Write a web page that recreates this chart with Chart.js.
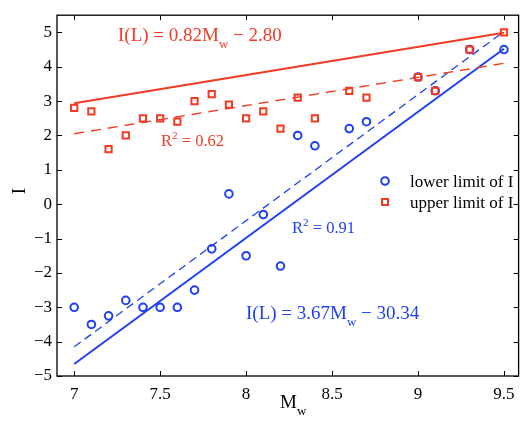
<!DOCTYPE html>
<html>
<head>
<meta charset="utf-8">
<script src="https://cdn.jsdelivr.net/npm/chart.js@4/dist/chart.umd.min.js"></script>
<style>
  html, body { margin: 0; padding: 0; background: #fff; }
  #wrap { width: 525px; height: 421px; }
</style>
</head>
<body>
<div id="wrap"><canvas id="scatter"></canvas></div>
<script>
// magnitudes and the two limits of I
var mw = [7.0, 7.1, 7.2, 7.3, 7.4, 7.5, 7.6, 7.7, 7.8, 7.9, 8.0, 8.1, 8.2, 8.3, 8.4, 8.6, 8.7, 9.0, 9.1, 9.3, 9.5];
var lowerI = [-3.0, -3.5, -3.25, -2.8, -3.0, -3.0, -3.0, -2.5, -1.3, 0.3, -1.5, -0.3, -1.8, 2.0, 1.7, 2.2, 2.4, 3.7, 3.3, 4.5, 4.5];
var upperI = [2.8, 2.7, 1.6, 2.0, 2.5, 2.5, 2.4, 3.0, 3.2, 2.9, 2.5, 2.7, 2.2, 3.1, 2.5, 3.3, 3.1, 3.7, 3.3, 4.5, 5.0];

// lines: I = slope*Mw + intercept, drawn between lineX ends
var lineX = [7.0, 9.5];
var lowerSlope = 3.67, lowerIntercept = -30.34, lowerFitIntercept = -29.84;
var upperSlope = 0.82, upperIntercept = -2.80, upperFitIntercept = -3.69;

var xTicks = [7, 7.5, 8, 8.5, 9, 9.5];
var yTicks = [-5, -4, -3, -2, -1, 0, 1, 2, 3, 4, 5];

var BLUE = '#1e3ff2';
var RED = '#f23a22';
var SERIF = '"Liberation Serif", "DejaVu Serif", serif';

function pts(xs, ys) {
    return xs.map(function (x, i) { return {x: x, y: ys[i]}; });
}
function linePts(slope, intercept) {
    return lineX.map(function (x) { return {x: x, y: slope * x + intercept}; });
}

// text with a sub/superscript piece
function richText(ctx, parts, x, y, size, color) {
    ctx.save();
    ctx.fillStyle = color;
    ctx.textBaseline = 'alphabetic';
    ctx.textAlign = 'left';
    parts.forEach(function (p) {
        var s = p.sub || p.sup ? size * 0.68 : size;
        ctx.font = s + 'px ' + SERIF;
        var dy = p.sub ? size * 0.38 : (p.sup ? -size * 0.42 : 0);
        ctx.fillText(p.t, x, y + dy);
        x += ctx.measureText(p.t).width;
    });
    ctx.restore();
}

var decor = {
    id: 'decor',
    afterDatasetsDraw: function (chart) {
        var ctx = chart.ctx, a = chart.chartArea;
        var xs = chart.scales.x, ys = chart.scales.y;
        ctx.save();
        ctx.strokeStyle = '#000';
        ctx.lineWidth = 1.3;
        ctx.strokeRect(a.left, a.top, a.right - a.left, a.bottom - a.top);
        ctx.lineWidth = 1;
        ctx.beginPath();
        xTicks.forEach(function (v) {
            var px = Math.round(xs.getPixelForValue(v)) + 0.5;
            ctx.moveTo(px, a.bottom); ctx.lineTo(px, a.bottom - 5);
            ctx.moveTo(px, a.top); ctx.lineTo(px, a.top + 5);
        });
        yTicks.forEach(function (v) {
            var py = Math.round(ys.getPixelForValue(v)) + 0.5;
            ctx.moveTo(a.left, py); ctx.lineTo(a.left + 5, py);
            ctx.moveTo(a.right, py); ctx.lineTo(a.right - 5, py);
        });
        ctx.stroke();
        ctx.restore();

        // equations
        richText(ctx, [{t: 'I(L) = 0.82M'}, {t: 'w', sub: true}, {t: ' \u2212 2.80'}], 118, 41, 19, RED);
        richText(ctx, [{t: 'R'}, {t: '2', sup: true}, {t: ' = 0.62'}], 161, 146, 16.5, RED);
        richText(ctx, [{t: 'R'}, {t: '2', sup: true}, {t: ' = 0.91'}], 292, 233, 16.5, BLUE);
        richText(ctx, [{t: 'I(L) = 3.67M'}, {t: 'w', sub: true}, {t: ' \u2212 30.34'}], 246, 319, 19, BLUE);

        // axis titles
        richText(ctx, [{t: 'M'}, {t: 'w', sub: true}], 280, 408, 19, '#000');
        ctx.save();
        ctx.translate(25, 191);
        ctx.rotate(-Math.PI / 2);
        ctx.fillStyle = '#000';
        ctx.font = '19px ' + SERIF;
        ctx.textAlign = 'center';
        ctx.fillText('I', 0, 0);
        ctx.restore();

        // legend
        ctx.save();
        ctx.lineWidth = 2;
        ctx.strokeStyle = BLUE;
        ctx.beginPath();
        ctx.arc(385, 181, 3.8, 0, Math.PI * 2);
        ctx.stroke();
        ctx.strokeStyle = RED;
        ctx.strokeRect(382, 199, 6, 6);
        ctx.restore();
        richText(ctx, [{t: 'lower limit of I'}], 410, 187, 17, '#000');
        richText(ctx, [{t: 'upper limit of I'}], 410, 208, 17, '#000');
    }
};

var ctxScatter = document.getElementById('scatter');
var scatterChart = new Chart(ctxScatter, {
    type: 'scatter',
    data: {
        datasets: [
        {
            label: 'lower limit of I',
            data: pts(mw, lowerI),
            pointStyle: 'circle',
            pointRadius: 3.8,
            borderWidth: 2,
            borderColor: BLUE,
            backgroundColor: 'rgba(0,0,0,0)',
            order: 2
        },
        {
            label: 'upper limit of I',
            data: pts(mw, upperI),
            pointStyle: 'rect',
            pointRadius: 4.4,
            borderWidth: 2,
            borderColor: RED,
            backgroundColor: 'rgba(0,0,0,0)',
            order: 1
        },
        {
            type: 'line',
            data: linePts(upperSlope, upperIntercept),
            borderColor: RED, borderWidth: 2, pointRadius: 0, order: 3
        },
        {
            type: 'line',
            data: linePts(upperSlope, upperFitIntercept),
            borderColor: RED, borderWidth: 1.3, borderDash: [10, 7], pointRadius: 0, order: 3
        },
        {
            type: 'line',
            data: linePts(lowerSlope, lowerIntercept),
            borderColor: BLUE, borderWidth: 2, pointRadius: 0, order: 3
        },
        {
            type: 'line',
            data: linePts(lowerSlope, lowerFitIntercept),
            borderColor: BLUE, borderWidth: 1.3, borderDash: [8, 5], pointRadius: 0, order: 3
        }]
    },
    options: {
        responsive: true,
        maintainAspectRatio: false,
        animation: false,
        layout: { padding: { top: 5, right: 1, left: 0, bottom: 0 } },
        plugins: {
            legend: { display: false },
            tooltip: { enabled: false }
        },
        scales: {
            x: {
                type: 'linear',
                min: 6.9,
                max: 9.585,
                afterFit: function (s) { s.height = 45; },
                afterBuildTicks: function (s) { s.ticks = xTicks.map(function (v) { return {value: v}; }); },
                grid: { display: false, drawTicks: false },
                border: { display: false },
                ticks: {
                    padding: 8,
                    color: '#000',
                    font: { family: SERIF, size: 17 },
                    callback: function (v) { return String(v); }
                }
            },
            y: {
                type: 'linear',
                min: -5,
                max: 5.5,
                afterFit: function (s) { s.width = 57; },
                afterBuildTicks: function (s) { s.ticks = yTicks.map(function (v) { return {value: v}; }); },
                grid: { display: false, drawTicks: false },
                border: { display: false },
                ticks: {
                    padding: 5,
                    color: '#000',
                    font: { family: SERIF, size: 17 },
                    callback: function (v) { return String(v).replace('-', '\u2212'); }
                }
            }
        }
    },
    plugins: [decor]
});
</script>
</body>
</html>
